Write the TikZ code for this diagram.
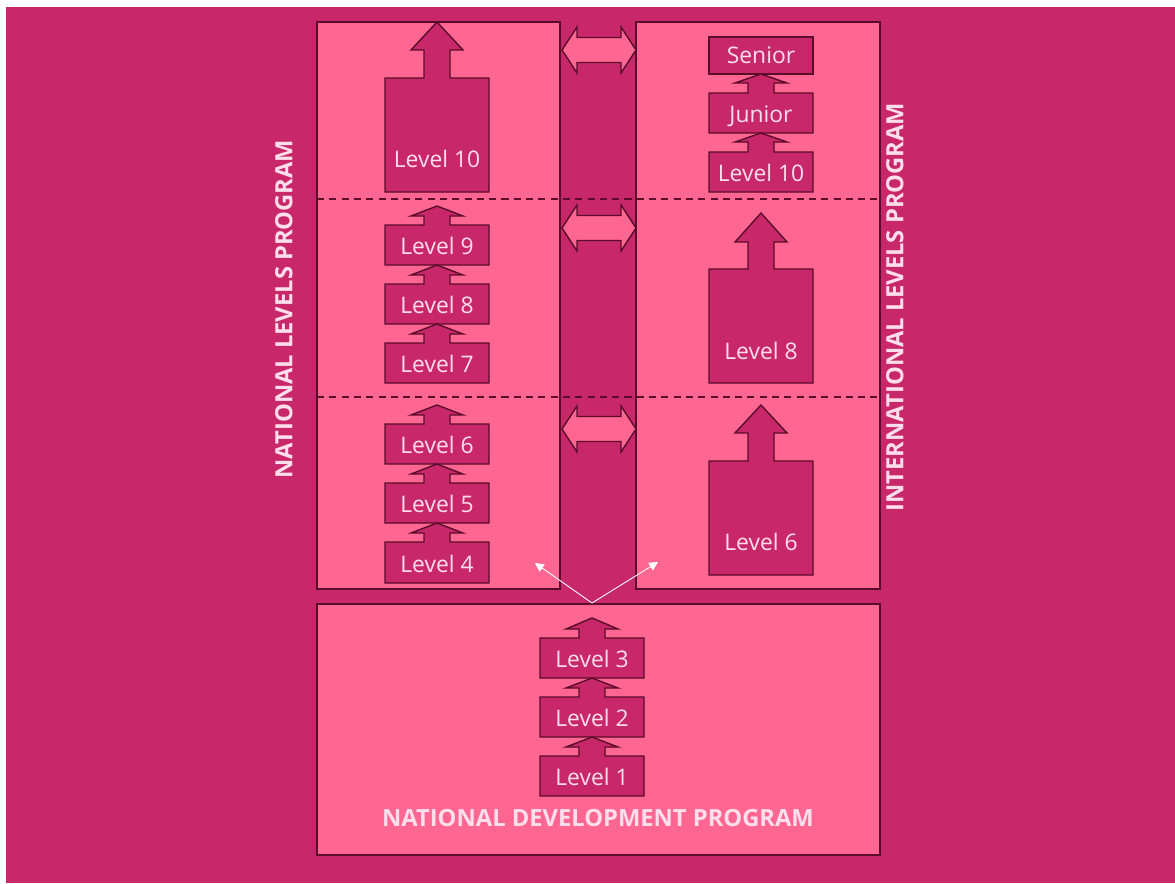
\documentclass[tikz,border=0pt]{standalone}
\usepackage{fontspec}
\setmainfont{Open Sans}
\usetikzlibrary{arrows.meta}

\definecolor{mag}{RGB}{200,40,106}
\definecolor{pnk}{RGB}{255,102,146}
\definecolor{edge}{RGB}{90,12,42}
\definecolor{lbl}{RGB}{255,222,236}

% box with an arrow standing on it: centre x, box top, box bottom, head, shaft
\newcommand{\stepbox}[5]{%
  \draw[stepfill] (#1-52,#3) -- (#1-52,#2) -- (#1-13,#2) -- (#1-13,#2-#5)
    -- (#1-26,#2-#5) -- (#1,#2-#5-#4) -- (#1+26,#2-#5) -- (#1+13,#2-#5)
    -- (#1+13,#2) -- (#1+52,#2) -- (#1+52,#3) -- cycle;
}
% two-way arrow between the panels: centre y
\newcommand{\twoway}[1]{%
  \draw[swapfill] (562,#1) -- (577,#1-23) -- (577,#1-12.5) -- (621,#1-12.5)
    -- (621,#1-23) -- (636,#1) -- (621,#1+23) -- (621,#1+12.5)
    -- (577,#1+12.5) -- (577,#1+23) -- cycle;
}

\tikzset{
  panel/.style={fill=pnk, draw=edge, line width=0.8pt},
  stepfill/.style={fill=mag, draw=edge, line width=0.8pt},
  swapfill/.style={fill=pnk, draw=edge, line width=0.8pt},
  split/.style={draw=edge, dashed, dash pattern=on 4pt off 3pt, line width=0.6pt},
  lvltext/.style={anchor=base, text=lbl, font=\fontsize{13}{15}\selectfont, inner sep=0pt},
  progtext/.style={text=lbl, font=\fontsize{13.5}{16}\selectfont\bfseries, inner sep=0pt},
  hint/.style={draw=white, line width=0.5pt, -{Triangle[length=5pt,width=5pt]}},
}

\begin{document}
\begin{tikzpicture}[x=0.02cm, y=-0.02cm]
  % page and background
  \fill[white] (0,0) rectangle (1175,883);
  \fill[mag] (6,7) rectangle (1175,883);

  % the three panels
  \draw[panel] (317,22) rectangle (560,589);
  \draw[panel] (636,22) rectangle (880,589);
  \draw[panel] (317,604) rectangle (880,855);

  % dashed dividers
  \draw[split] (317,199) -- (880,199);
  \draw[split] (317,397) -- (880,397);

  % two-way arrows between national and international
  \twoway{50}
  \twoway{228}
  \twoway{429}

  % national levels
  \stepbox{437}{78}{192}{28}{28}
  \stepbox{437}{225}{265}{10}{9}
  \stepbox{437}{284}{324}{10}{9}
  \stepbox{437}{343}{383}{10}{9}
  \stepbox{437}{424}{464}{10}{9}
  \stepbox{437}{483}{523}{10}{9}
  \stepbox{437}{542}{583}{10}{9}
  \node[lvltext] (n10) at (437,167) {Level 10};
  \node[lvltext] (n9) at (437,254) {Level 9};
  \node[lvltext] (n8) at (437,313) {Level 8};
  \node[lvltext] (n7) at (437,372) {Level 7};
  \node[lvltext] (n6) at (437,453) {Level 6};
  \node[lvltext] (n5) at (437,512) {Level 5};
  \node[lvltext] (n4) at (437,572) {Level 4};

  % international levels
  \draw[stepfill] (709,37) rectangle (813,74);
  \stepbox{761}{93}{133}{9}{10}
  \stepbox{761}{152}{192}{9}{10}
  \stepbox{761}{269}{383}{29}{27}
  \stepbox{761}{461}{575}{28}{28}
  \node[lvltext] (senior) at (761,63) {Senior};
  \node[lvltext] (junior) at (761,122) {Junior};
  \node[lvltext] (i10) at (761,181) {Level 10};
  \node[lvltext] (i8) at (761,359) {Level 8};
  \node[lvltext] (i6) at (761,550) {Level 6};

  % development levels
  \stepbox{592}{638}{678}{11}{9}
  \stepbox{592}{697}{737}{10}{9}
  \stepbox{592}{756}{796}{10}{9}
  \node[lvltext] (d3) at (592,667) {Level 3};
  \node[lvltext] (d2) at (592,726) {Level 2};
  \node[lvltext] (d1) at (592,785) {Level 1};

  % program titles
  \node[progtext, anchor=base] (devprog) at (598,826) {NATIONAL DEVELOPMENT PROGRAM};
  \node[progtext, rotate=90] (natprog) at (284,309) {NATIONAL LEVELS PROGRAM};
  \node[progtext, rotate=90] (intprog) at (895,307) {INTERNATIONAL LEVELS PROGRAM};

  % from development to either program
  \coordinate (fork) at (592,603);
  \coordinate (tonat) at (535,563);
  \coordinate (toint) at (658,562);
  \draw[hint] (fork) -- (tonat);
  \draw[hint] (fork) -- (toint);
\end{tikzpicture}
\end{document}
